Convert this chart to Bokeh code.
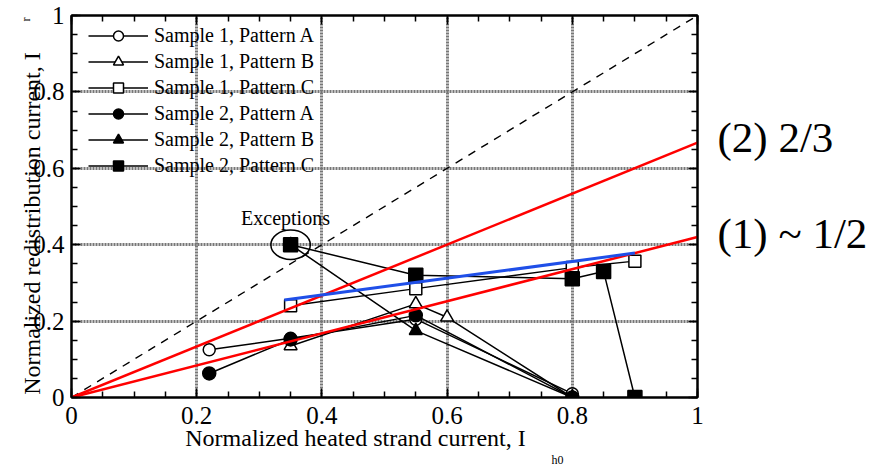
import math
from bokeh.plotting import figure
from bokeh.models import (Range1d, LinearAxis, FixedTicker, NumeralTickFormatter,
                          Label, Legend, LegendItem)
from bokeh.embed import file_html
from bokeh.resources import INLINE

# ---- data ----
s1a_x = [0.22, 0.35, 0.55, 0.80]
s1a_y = [0.125, 0.155, 0.205, 0.01]
s1b_x = [0.35, 0.55, 0.60, 0.80]
s1b_y = [0.135, 0.245, 0.21, 0.0]
s1c_x = [0.35, 0.55, 0.80, 0.90]
s1c_y = [0.24, 0.285, 0.34, 0.357]
s2a_x = [0.22, 0.35, 0.55, 0.80]
s2a_y = [0.063, 0.152, 0.215, 0.0]
s2b_x = [0.35, 0.55, 0.80]
s2b_y = [0.40, 0.175, 0.0]
s2c_x = [0.35, 0.55, 0.80, 0.85, 0.90]
s2c_y = [0.40, 0.32, 0.311, 0.33, 0.0]

diag_x = [0.0, 1.0]
diag_y = [0.0, 1.0]
fit_two_thirds_x = [0.0, 1.0]
fit_two_thirds_y = [0.0, 0.667]
fit_half_x = [0.0, 1.0]
fit_half_y = [0.0, 0.42]
fit_blue_x = [0.34, 0.90]
fit_blue_y = [0.255, 0.378]

major_ticks = [0, 0.2, 0.4, 0.6, 0.8, 1.0]
minor_ticks = [i * 0.05 for i in range(21)]
grid_ticks = [0.2, 0.4, 0.6, 0.8]

series_names = ["Sample 1, Pattern A", "Sample 1, Pattern B", "Sample 1, Pattern C",
                "Sample 2, Pattern A", "Sample 2, Pattern B", "Sample 2, Pattern C"]
fit_labels = ["(2) 2/3", "(1) ~ 1/2"]

FONT = "Liberation Serif"

p = figure(width=870, height=467, x_range=Range1d(0, 1), y_range=Range1d(0, 1),
           output_backend="svg", toolbar_location=None,
           min_border_left=71, min_border_right=173, min_border_top=15, min_border_bottom=70)
p.background_fill_color = "white"
p.border_fill_color = "white"
p.outline_line_color = "black"
p.outline_line_width = 2

def style_axis(ax, show_labels):
    ax.ticker = FixedTicker(ticks=major_ticks, minor_ticks=minor_ticks)
    ax.formatter = NumeralTickFormatter(format="0.[0]")
    ax.major_tick_in = 9
    ax.major_tick_out = 0
    ax.minor_tick_in = 6
    ax.minor_tick_out = 0
    ax.axis_line_width = 2
    ax.axis_line_color = "black"
    ax.major_tick_line_width = 1.5
    ax.minor_tick_line_width = 1.5
    ax.major_tick_line_color = "black"
    ax.minor_tick_line_color = "black"
    ax.major_label_text_font = FONT
    ax.major_label_text_font_size = "25px"
    ax.major_label_text_color = "black"
    ax.major_label_standoff = 7
    if not show_labels:
        ax.major_label_overrides = {t: "" for t in major_ticks}
        ax.major_label_standoff = 0

style_axis(p.xaxis[0], True)
style_axis(p.yaxis[0], True)
p.xaxis[0].major_label_standoff = 9
top_ax = LinearAxis()
right_ax = LinearAxis()
style_axis(top_ax, False)
style_axis(right_ax, False)
p.add_layout(top_ax, "above")
p.add_layout(right_ax, "right")

for g in (p.xgrid[0], p.ygrid[0]):
    g.ticker = FixedTicker(ticks=grid_ticks)
    g.grid_line_color = "#777777"
    g.grid_line_width = 3
    g.grid_line_dash = "2 1"

# diagonal reference
p.line(diag_x, diag_y, line_color="black", line_width=1.4, line_dash="8 7")

# data series
specs = [
    (s1a_x, s1a_y, "circle", "white", 12),
    (s1b_x, s1b_y, "triangle", "white", 13),
    (s1c_x, s1c_y, "square", "white", 12),
    (s2a_x, s2a_y, "circle", "black", 13),
    (s2b_x, s2b_y, "triangle", "black", 13),
    (s2c_x, s2c_y, "square", "black", 14),
]
items = []
for (xs, ys, mk, fill, sz), name in zip(specs, series_names):
    ln = p.line(xs, ys, line_color="black", line_width=1.5)
    sc = p.scatter(xs, ys, marker=mk, size=sz, fill_color=fill, line_color="black", line_width=1.5)
    items.append(LegendItem(label=name, renderers=[ln, sc]))

# fit lines
p.line(fit_two_thirds_x, fit_two_thirds_y, line_color="#ff0000", line_width=2.5)
p.line(fit_half_x, fit_half_y, line_color="#ff0000", line_width=2.5)
p.line(fit_blue_x, fit_blue_y, line_color="#1f4fe8", line_width=3)

# exceptions ellipse
p.ellipse(x=[s2c_x[0]], y=[s2c_y[0]], width=0.063, height=0.077,
          fill_color=None, line_color="black", line_width=1.5)

legend = Legend(items=items, location=(17, 219))
legend.padding = 0
legend.margin = 0
legend.spacing = 1
legend.glyph_width = 60
legend.glyph_height = 25
legend.label_height = 25
legend.label_standoff = 6
legend.label_text_font = FONT
legend.label_text_font_size = "20px"
legend.label_text_color = "black"
legend.background_fill_alpha = 0
legend.border_line_alpha = 0
p.add_layout(legend)

# texts; screen units are relative to the slot each label gets in its panel
def add_label(sx, sy, text, size, angle=0.0, align="center", place="center", line_height=1.2):
    lab = Label(x=sx, y=sy, x_units="screen", y_units="screen", text=text,
                text_font=FONT, text_font_size=size, text_color="black",
                text_align=align, text_baseline="middle", angle=angle,
                text_line_height=line_height)
    p.add_layout(lab, place)

add_label(214, 180, "Exceptions", "20px")
add_label(20, 212, "\n".join(fit_labels), "43px", align="left", place="right", line_height=2.04)
add_label(-290, -62, "h0", "12px", place="right")
add_label(284, 15, "Normalized heated strand current, I", "24px", place="below")
add_label(27, 174, "Normalized redistribution current, I", "24px", angle=math.pi / 2, place="left")
add_label(-46, -4, "r", "12px", angle=math.pi / 2, place="above")

open("out.html", "w").write(file_html(p, INLINE))
